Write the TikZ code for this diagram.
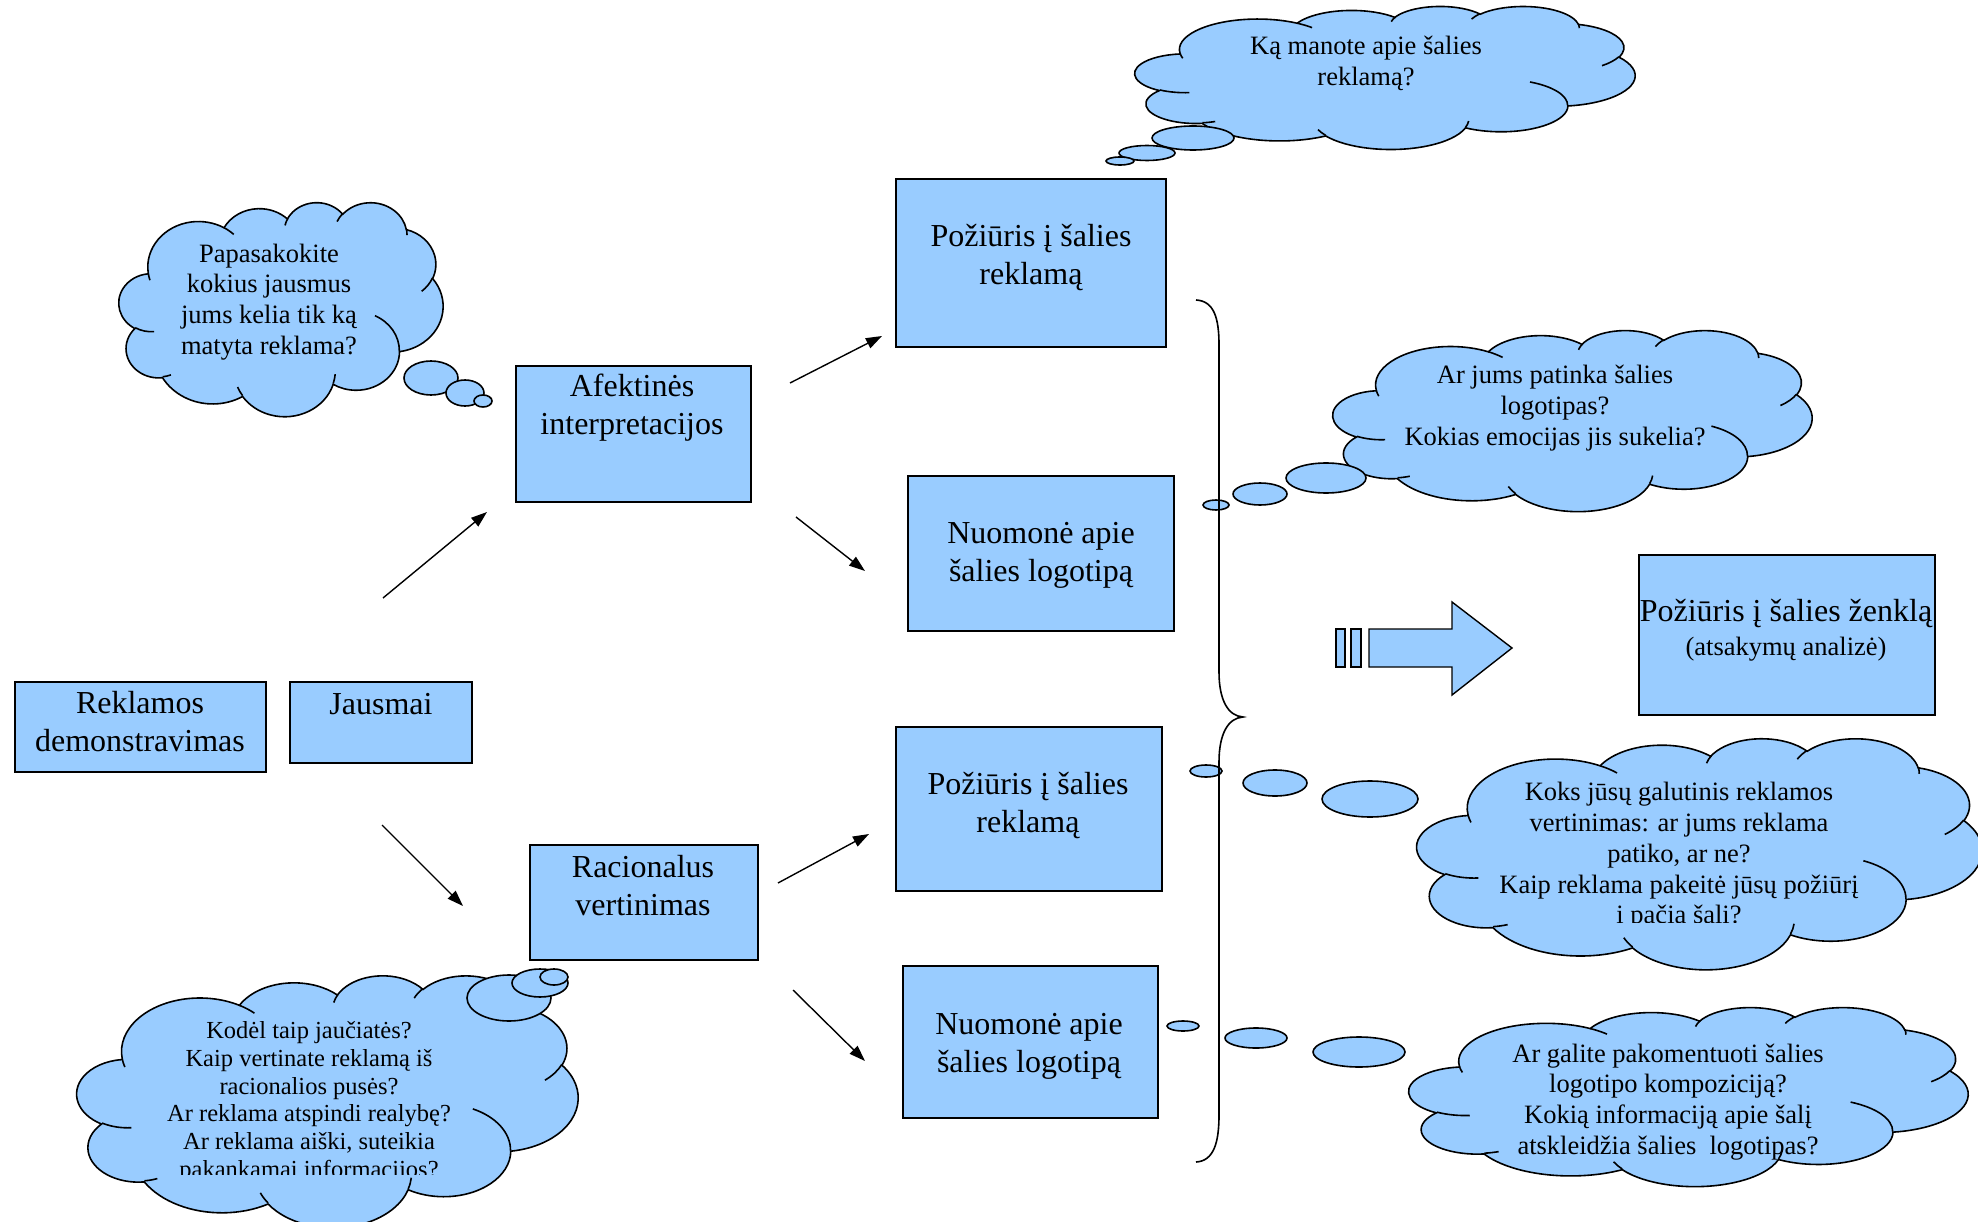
\documentclass[tikz,border=0pt]{standalone}
\usepackage{fontspec}
\setmainfont{Liberation Serif}
\usetikzlibrary{arrows.meta}
\definecolor{skyfill}{RGB}{153,204,255}

\tikzset{
  boxnode/.style={draw=black, fill=skyfill, line width=1.6pt, inner sep=0pt},
  boxtext/.style={align=center, font=\fontsize{32}{38}\selectfont, inner sep=0pt},
  cloudtext/.style={align=center, font=\fontsize{26.5}{30.8}\selectfont, inner sep=0pt},
  smalltext/.style={align=center, font=\fontsize{24.5}{27.8}\selectfont, inner sep=0pt},
  flowarrow/.style={line width=1.4pt, -{Triangle[length=16pt,width=11pt]}},
  cloudline/.style={draw=black, fill=skyfill, line width=1.6pt},
  innerline/.style={draw=black, line width=1.6pt},
  bubble/.style={draw=black, fill=skyfill, line width=1.6pt},
}

% elliptic arc given by visual start angle and sweep (degrees)
\newcommand\cldarc[4]{%
  \pgfextra{%
    \pgfmathparse{atan2((#1)*sin(#3),(#2)*cos(#3))}\xdef\cldA{\pgfmathresult}%
    \pgfmathparse{atan2((#1)*sin((#3)+(#4)),(#2)*cos((#3)+(#4)))}\xdef\cldB{\pgfmathresult}%
    \pgfmathparse{\cldB-\cldA}\xdef\cldD{\pgfmathresult}%
    \pgfmathparse{\cldD+360*((#4)>0)*(\cldD<0)-360*((#4)<0)*(\cldD>0)}\xdef\cldD{\pgfmathresult}%
  }%
  arc[start angle=\cldA, delta angle=\cldD, x radius=#1, y radius=#2]%
}

% cloud outline in a 432 x 432 frame
\newcommand\cloudoutline{%
  (39.00,143.70)
  \cldarc{67.53}{91.90}{-190.4875}{123.7805}
  \cldarc{53.33}{72.67}{-144.1024}{89.9452}
  \cldarc{43.65}{59.45}{-145.8079}{99.7230}
  \cldarc{48.57}{65.95}{-130.9861}{117.2417}
  \cldarc{53.33}{72.73}{-78.7089}{109.0269}
  \cldarc{67.75}{92.20}{-46.2673}{130.2690}
  \cldarc{57.85}{78.67}{0.6250}{114.0333}
  \cldarc{67.52}{92.15}{22.4516}{115.1726}
  \cldarc{77.20}{105.43}{66.2426}{75.7110}
  \cldarc{43.60}{59.18}{-274.9421}{146.7356}
  \cldarc{43.45}{59.45}{-246.8285}{152.5189}
  -- cycle}

% fold lines inside the cloud
\newcommand\cloudfolds{%
  (46.93,261.77) \cldarc{43.45}{59.45}{86.7420}{26.4295}
  (69.28,348.99) \cldarc{43.60}{59.18}{73.6105}{11.4475}
  (164.78,390.90) \cldarc{67.52}{92.15}{137.6242}{14.0811}
  (288.27,347.51) \cldarc{67.52}{92.15}{6.4533}{15.9984}
  (341.29,229.54) \cldarc{57.85}{78.67}{-70.2924}{70.9174}
  (417.98,153.54) \cldarc{53.33}{72.73}{30.3180}{27.7515}
  (383.24,54.26) \cldarc{48.57}{65.95}{-13.7443}{14.8589}
  (290.78,39.52) \cldarc{48.57}{65.95}{-149.1815}{18.1954}
  (221.41,47.20) \cldarc{43.65}{59.45}{-163.4943}{17.6864}
  (140.00,51.92) \cldarc{67.53}{91.90}{-66.7070}{12.3194}
  (41.27,157.89) \cldarc{67.53}{91.90}{157.6544}{11.8582}}

% #1,#2 top left corner, #3 width, #4 height
\newcommand\thoughtcloud[4]{%
  \begin{scope}[shift={(#1,#2)}, xscale=#3/432, yscale=#4/432]
    \path[cloudline] \cloudoutline;
    \path[innerline] \cloudfolds;
  \end{scope}}

\begin{document}
\begin{tikzpicture}[x=1pt, y=-1pt]
\useasboundingbox (0,0) rectangle (1978,1222);

% ---- thought clouds with their trailing bubbles ----
\thoughtcloud{1135}{6}{500}{143}
\draw[bubble] (1193,138) ellipse [x radius=41, y radius=12];
\draw[bubble] (1147,153) ellipse [x radius=28, y radius=7.5];
\draw[bubble] (1120,161) ellipse [x radius=14, y radius=4];
\node[cloudtext] (q1) at (1366,63) {Ką manote apie šalies\\reklamą?};

\thoughtcloud{119}{202}{324}{214}
\draw[bubble] (431,378) ellipse [x radius=27, y radius=17];
\draw[bubble] (465,393) ellipse [x radius=19, y radius=13];
\draw[bubble] (483,401) ellipse [x radius=9, y radius=6];
\node[cloudtext] (q2) at (269,302) {Papasakokite\\kokius jausmus\\jums kelia tik ką\\matyta reklama?};

\thoughtcloud{1333}{330}{479}{181}
\draw[bubble] (1326,478) ellipse [x radius=40, y radius=15];
\draw[bubble] (1260,494) ellipse [x radius=27, y radius=11];
\draw[bubble] (1216,505) ellipse [x radius=13, y radius=5];
\node[cloudtext] (q3) at (1555,408) {Ar jums patinka šalies\\logotipas?\\Kokias emocijas jis sukelia?};

\thoughtcloud{1417}{738}{565}{231}
\draw[bubble] (1370,799) ellipse [x radius=48, y radius=18];
\draw[bubble] (1275,783) ellipse [x radius=32, y radius=13];
\draw[bubble] (1206,771) ellipse [x radius=16, y radius=6];
\begin{scope}
  \clip (1400,740) rectangle (1978,922);
  \node[cloudtext] (q4) at (1679,856) {Koks jūsų galutinis reklamos\\vertinimas: ar jums reklama\\patiko, ar ne?\\Kaip reklama pakeitė jūsų požiūrį\\į pačią šalį?};
\end{scope}

\thoughtcloud{77}{975}{501}{252}
\draw[bubble] (509,998) ellipse [x radius=42, y radius=23];
\draw[bubble] (540,983) ellipse [x radius=28, y radius=14];
\draw[bubble] (554,977) ellipse [x radius=14, y radius=8];
\begin{scope}
  \clip (80,990) rectangle (580,1174);
  \node[smalltext] (q5) at (309,1102) {Kodėl taip jaučiatės?\\Kaip vertinate reklamą iš\\racionalios pusės?\\Ar reklama atspindi realybę?\\Ar reklama aiški, suteikia\\pakankamai informacijos?};
\end{scope}

\thoughtcloud{1409}{1007}{559}{179}
\draw[bubble] (1359,1052) ellipse [x radius=46, y radius=15];
\draw[bubble] (1256,1038) ellipse [x radius=31, y radius=10];
\draw[bubble] (1183,1026) ellipse [x radius=16, y radius=5];
\node[cloudtext] (q6) at (1668,1102) {Ar galite pakomentuoti šalies\\logotipo kompoziciją?\\Kokią informaciją apie šalį\\atskleidžia šalies\ \ logotipas?};

% ---- boxes ----
\node[boxnode, minimum width=251, minimum height=90] (demo) at (140.5,727) {};
\node[boxtext] at (140,722) {Reklamos\\demonstravimas};
\node[boxnode, minimum width=182, minimum height=81] (jausmai) at (381,722.5) {};
\node[boxtext] at (381,704) {Jausmai};
\node[boxnode, minimum width=235, minimum height=136] (afekt) at (633.5,434) {};
\node[boxtext] at (632,408) {Afektinės\\interpretacijos};
\node[boxnode, minimum width=228, minimum height=115] (racio) at (644,902.5) {};
\node[boxtext] at (643,886) {Racionalus\\vertinimas};
\node[boxnode, minimum width=270, minimum height=168] (pozA) at (1031,263) {};
\node[boxtext] at (1031,258) {Požiūris į šalies\\reklamą};
\node[boxnode, minimum width=266, minimum height=155] (nuoA) at (1041,553.5) {};
\node[boxtext] at (1041,555) {Nuomonė apie\\šalies logotipą};
\node[boxnode, minimum width=266, minimum height=164] (pozB) at (1029,809) {};
\node[boxtext] at (1028,806) {Požiūris į šalies\\reklamą};
\node[boxnode, minimum width=255, minimum height=152] (nuoB) at (1030.5,1042) {};
\node[boxtext] at (1029,1046) {Nuomonė apie\\šalies logotipą};
\node[boxnode, minimum width=296, minimum height=160] (zenkl) at (1787,635) {};
\node[boxtext] at (1786,614) {Požiūris į šalies ženklą};
\node[cloudtext] at (1786,649) {(atsakymų analizė)};

% ---- arrows ----
\coordinate (j1) at (383,598);  \coordinate (a1) at (487,512);
\coordinate (j2) at (382,825);  \coordinate (r1) at (463,906);
\coordinate (a2) at (790,383);  \coordinate (p1) at (882,336);
\coordinate (a3) at (796,517);  \coordinate (n1) at (865,571);
\coordinate (r2) at (778,883);  \coordinate (p2) at (869,834);
\coordinate (r3) at (793,990);  \coordinate (n2) at (865,1061);
\draw[flowarrow] (j1) -- (a1);
\draw[flowarrow] (j2) -- (r1);
\draw[flowarrow] (a2) -- (p1);
\draw[flowarrow] (a3) -- (n1);
\draw[flowarrow] (r2) -- (p2);
\draw[flowarrow] (r3) -- (n2);

% ---- brace grouping the four boxes ----
\draw[line width=1.6pt]
  (1196,300) .. controls (1214,301) and (1219,318) .. (1219,345)
  -- (1219,672) .. controls (1219,700) and (1228,716) .. (1243,717)
  .. controls (1228,718) and (1219,734) .. (1219,762)
  -- (1219,1115) .. controls (1219,1142) and (1214,1161) .. (1196,1162);

% ---- striped block arrow ----
\draw[bubble, line width=1.4pt] (1336,629) rectangle (1345,667);
\draw[bubble, line width=1.4pt] (1351,629) rectangle (1361,667);
\draw[bubble, line width=1.4pt] (1369,629) -- (1452,629) -- (1452,602) -- (1512,648)
  -- (1452,695) -- (1452,667) -- (1369,667) -- cycle;
\end{tikzpicture}
\end{document}
